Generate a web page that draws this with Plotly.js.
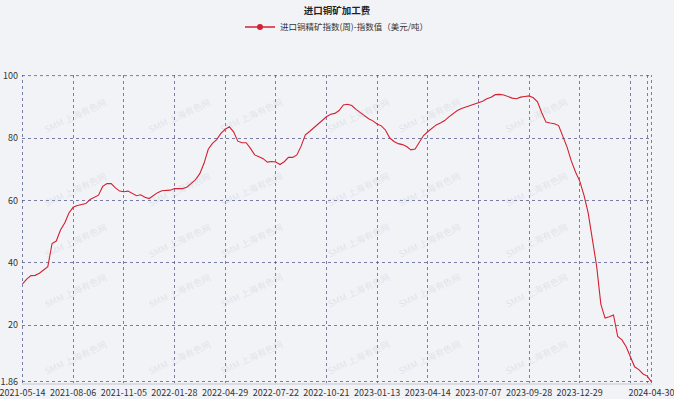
<!DOCTYPE html>
<html>
<head>
<meta charset="utf-8">
<script src="https://cdn.plot.ly/plotly-3.0.1.min.js"></script>
<style>html,body{margin:0;padding:0;background:#f2f3f7;}#chart{width:674px;height:399px;}</style>
</head>
<body>
<div id="chart"></div>
<script>
// Weekly index values (USD/t), oldest first
const values = [
  33.3, 34.8, 35.9, 36.0, 36.7, 37.8, 38.8, 46.2, 47.0, 50.5,
  52.8, 56.0, 57.8, 58.4, 58.8, 59.0, 60.3, 61.0, 61.7, 64.5,
  65.4, 65.4, 64.0, 63.0, 62.8, 63.0, 62.2, 61.5, 61.8, 61.0,
  60.6, 61.5, 62.5, 63.1, 63.2, 63.3, 63.8, 63.8, 63.8, 64.3,
  65.6, 66.7, 68.6, 71.9, 76.4, 78.3, 79.5, 81.5, 82.8, 83.6,
  82.0, 79.0, 78.5, 78.5, 76.7, 74.6, 74.0, 73.4, 72.3, 72.5,
  72.3, 71.5, 72.4, 73.8, 73.8, 74.6, 77.4, 81.0, 82.1, 83.3,
  84.5, 85.5, 86.8, 87.6, 87.9, 88.8, 90.6, 90.8, 90.4, 89.2,
  88.1, 87.1, 86.2, 85.5, 84.5, 83.9, 82.5, 80.0, 78.9, 78.2,
  77.9, 77.3, 76.2, 76.5, 78.8, 80.8, 82.0, 83.0, 84.2, 84.8,
  85.6, 86.8, 87.9, 88.8, 89.5, 90.0, 90.5, 91.0, 91.4, 91.8,
  92.6, 93.1, 93.9, 94.0, 93.8, 93.2, 92.8, 92.6, 93.1, 93.3,
  93.5, 92.9, 91.6, 88.1, 85.1, 84.8, 84.6, 84.0, 80.7, 77.1,
  72.7, 69.1, 66.2, 61.7, 56.0, 46.9, 39.0, 26.8, 22.3, 22.7,
  23.3, 16.4, 15.3, 13.1, 10.0, 6.7, 5.8, 4.4, 3.7, 1.86
];
// x tick positions (week index) and their labels ('' = gridline only)
const xTickPos = [0, 12, 24, 36, 48, 60, 72, 84, 96, 108, 120, 132, 144, 148, 149];
const xTickLabels = ['2021-05-14','2021-08-06','2021-11-05','2022-01-28','2022-04-29','2022-07-22',
  '2022-10-21','2023-01-13','2023-04-14','2023-07-07','2023-09-28','2023-12-29','','','2024-04-30'];
const yTickVals = [1.86, 20, 40, 60, 80, 100];
const yTickLabels = ['1.86', '20', '40', '60', '80', '100'];
const chartTitle = '进口铜矿加工费';
const seriesName = '进口铜精矿指数(周)-指数值（美元/吨）';
const watermark = 'SMM 上海有色网';

const FONT = 'Noto Sans CJK SC, Noto Sans, sans-serif';
const LINE = '#d42030';
const GRID = 'rgba(80,85,135,0.75)';
const W = 674, H = 399, L = 22, R = 22, T = 75, B = 16;
const pw = W - L - R, ph = H - T - B;

const traces = [
  {y: values, type: 'scatter', mode: 'lines', line: {color: LINE, width: 1.1}, showlegend: false, hoverinfo: 'y'},
  {x: [null], y: [null], type: 'scatter', mode: 'lines+markers', name: seriesName,
   line: {color: LINE, width: 1.5}, marker: {color: LINE, size: 6}}
];

const annotations = [];
[40, 144, 251, 358, 465, 572].forEach(px => {
  [93, 167, 240, 313, 380].forEach(py => {
    annotations.push({xref: 'paper', yref: 'paper', x: (px - L) / pw, y: (H - B - py) / ph,
      text: watermark, showarrow: false, textangle: -25,
      font: {family: FONT, size: 9, color: 'rgba(170,175,190,0.25)'}});
  });
});

const edge = {type: 'line', layer: 'below', line: {color: GRID, width: 1, dash: 'dot'}};
const shapes = [
  Object.assign({}, edge, {xref: 'x', yref: 'paper', x0: xTickPos[0], x1: xTickPos[0], y0: 0, y1: 1}),
  Object.assign({}, edge, {xref: 'x', yref: 'paper', x0: xTickPos[xTickPos.length - 1], x1: xTickPos[xTickPos.length - 1], y0: 0, y1: 1}),
  Object.assign({}, edge, {xref: 'paper', yref: 'y', x0: 0, x1: 1, y0: yTickVals[yTickVals.length - 1], y1: yTickVals[yTickVals.length - 1]})
];

const layout = {
  width: W, height: H,
  margin: {l: L, r: R, t: T, b: B, pad: 0},
  paper_bgcolor: '#f2f3f7', plot_bgcolor: '#f2f3f7',
  font: {family: FONT, size: 9, color: '#333'},
  title: {text: '<b>' + chartTitle + '</b>', x: 0.5, xref: 'container', y: 1 - 11 / H, yref: 'container',
    xanchor: 'center', yanchor: 'middle', font: {family: FONT, size: 9.5, color: '#222'}},
  showlegend: true,
  legend: {orientation: 'h', x: 0.5, xanchor: 'center', y: (H - B - 27) / ph, yanchor: 'middle',
    font: {family: FONT, size: 8.5, color: '#333'}, bgcolor: 'rgba(0,0,0,0)', itemwidth: 30},
  xaxis: {range: [-0.12, values.length - 1 + 0.12], tickmode: 'array', tickvals: xTickPos, ticktext: xTickLabels,
    showgrid: true, gridcolor: GRID, griddash: 'dot', gridwidth: 1,
    zeroline: false, showline: true, linecolor: '#dcdde4', linewidth: 2, ticks: '',
    ticklabeloverflow: 'allow',
    tickfont: {family: FONT, size: 9, color: '#333'}, ticklabelstandoff: 0, fixedrange: true},
  yaxis: {range: [1.5, 100.2], tickmode: 'array', tickvals: yTickVals, ticktext: yTickLabels,
    showgrid: true, gridcolor: GRID, griddash: 'dot', gridwidth: 1,
    zeroline: false, showline: false, ticks: '', ticklabelstandoff: 3, ticklabeloverflow: 'allow',
    tickfont: {family: FONT, size: 9, color: '#333'}, fixedrange: true},
  shapes: shapes,
  annotations: annotations
};

Plotly.newPlot('chart', traces, layout, {displayModeBar: false, staticPlot: true});
</script>
</body>
</html>
